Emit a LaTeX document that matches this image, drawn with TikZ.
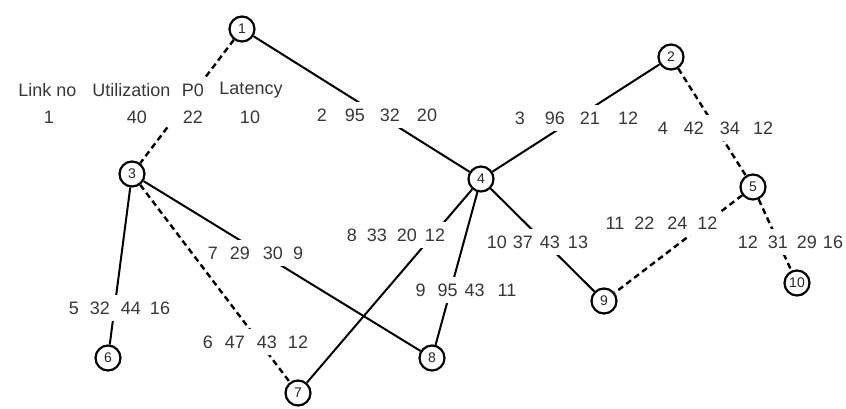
\documentclass[tikz,border=0pt]{standalone}
\usepackage{fontspec}
\setmainfont{Liberation Sans}
\newcommand{\gp}[1]{\hspace{#1pt}}
\begin{document}
\begin{tikzpicture}[x=1pt,y=-1pt,
  vtx/.style={circle,draw=black,line width=2.2pt,minimum size=25pt,inner sep=0pt,fill=white,
    font=\fontsize{14}{14}\selectfont,text=black!85},
  solidedge/.style={draw=black,line width=2pt},
  dashededge/.style={draw=black,line width=2.4pt,dash pattern=on 6pt off 4pt},
  lbl/.style={fill=white,inner xsep=2pt,inner ysep=0pt,minimum height=26pt,
    font=\fontsize{18}{18}\selectfont,text=black!78}]
\useasboundingbox (0,0) rectangle (846,408);
\fill[white] (0,0) rectangle (846,408);
% vertices
\node[vtx] (n1) at (242,29) {1};
\node[vtx] (n2) at (671,57) {2};
\node[vtx] (n3) at (132,174) {3};
\node[vtx] (n4) at (481,179) {4};
\node[vtx] (n5) at (753,187) {5};
\node[vtx] (n6) at (108,358) {6};
\node[vtx] (n7) at (298,393) {7};
\node[vtx] (n8) at (432,358) {8};
\node[vtx] (n9) at (604,301) {9};
\node[vtx] (n10) at (797,283) {10};
% edges
\draw[dashededge] (n1) -- (n3);
\draw[solidedge] (n1) -- (n4);
\draw[solidedge] (n4) -- (n2);
\draw[dashededge] (n2) -- (n5);
\draw[dashededge] (n5) -- (n10);
\draw[dashededge] (n5) -- (n9);
\draw[solidedge] (n4) -- (n9);
\draw[solidedge] (n4) -- (n7);
\draw[solidedge] (n4) -- (n8);
\draw[solidedge] (n3) -- (n8);
\draw[dashededge] (n3) -- (n7);
\draw[solidedge] (n3) -- (n6);
% header (one white text block)
\fill[white] (14,78) rectangle (288,126);
\node[lbl] (hlink) at (47.5,90) {Link no};
\node[lbl] (hutil) at (131.5,90) {Utilization};
\node[lbl] (hpo) at (193,90) {P0};
\node[lbl] (hlat) at (251,90) {Latency};
\node[lbl] (r1a) at (49,117) {1};
\node[lbl] (r1b) at (137,117) {40};
\node[lbl] (r1c) at (193,117) {22};
\node[lbl] (r1d) at (250,117) {10};
% edge labels
\node[lbl] (l2) at (377,115) {2\gp{18}95\gp{15}32\gp{17}20};
\node[lbl] (l3) at (576.5,118) {3\gp{20}96\gp{15}21\gp{18}12};
\node[lbl] (l4) at (715.5,128) {4\gp{16}42\gp{16}34\gp{13}12};
\node[lbl] (l8) at (396,235) {8\gp{10}33\gp{10}20\gp{8}12};
\node[lbl] (l10) at (537.5,242) {10\gp{6}37\gp{7}43\gp{8}13};
\node[lbl] (l11) at (661.5,223) {11\gp{10}22\gp{13}24\gp{10}12};
\node[lbl] (l12) at (790.5,242) {12\gp{10}31\gp{9}29\gp{6}16};
\node[lbl] (l7) at (255.5,253) {7\gp{12}29\gp{13}30\gp{10}9};
\node[lbl] (l5) at (119.5,308) {5\gp{11}32\gp{11}44\gp{9}16};
\node[lbl] (l6) at (255.5,342) {6\gp{12}47\gp{12}43\gp{11}12};
\node[lbl] (l9) at (466,290) {9\gp{12}95\gp{7}43\gp{13}11};
\end{tikzpicture}
\end{document}
